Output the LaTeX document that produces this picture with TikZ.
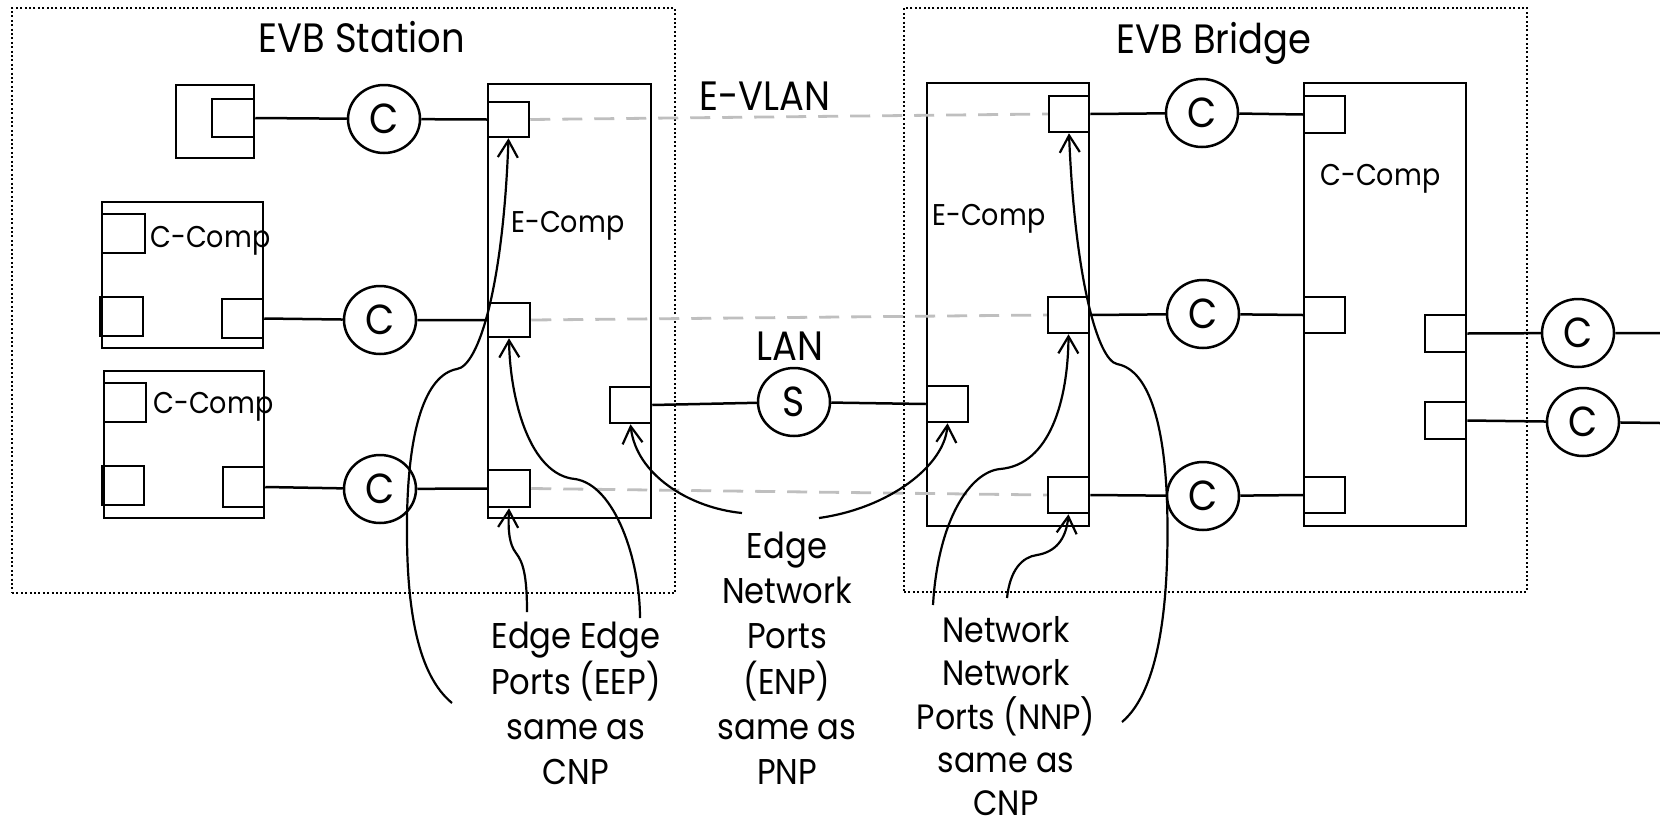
\documentclass[tikz,border=0pt]{standalone}
\usepackage{fontspec}
\setmainfont{Poppins}[FakeStretch=0.9]
\usetikzlibrary{shapes.geometric,arrows.meta,fit}
\newcommand{\ttlfont}{\fontsize{20.5}{24}\selectfont}
\newcommand{\lblfont}{\fontsize{17.9}{22.5}\selectfont}
\newcommand{\nnpfont}{\fontsize{17.6}{21.6}\selectfont}
\newcommand{\cmpfont}{\fontsize{15}{18}\selectfont}
\newcommand{\crcfont}{\fontsize{21}{24}\selectfont}
\tikzset{
  grp/.style={draw, line width=1pt, dash pattern=on 1pt off 1.2pt, inner sep=0pt, fit={#1}},
  box/.style={draw, line width=1.25pt, inner sep=0pt, fit={#1}},
  conn/.style={draw, ellipse, line width=1.25pt, minimum width=36pt, minimum height=34pt, inner sep=0pt, font=\crcfont},
  wire/.style={line width=1.25pt},
  vlan/.style={line width=1.4pt, draw=black!25, dash pattern=on 10pt off 6pt},
  callout/.style={line width=1.1pt, -{Straight Barb[length=8.5pt,width=10pt]}},
  ttl/.style={inner sep=0pt, font=\ttlfont, anchor=base},
  cmp/.style={inner sep=0pt, font=\cmpfont, anchor=base west},
  lbl/.style={inner sep=0pt, font=\lblfont, anchor=base},
}
\begin{document}
\begin{tikzpicture}[x=0.5pt,y=-0.5pt]
\useasboundingbox (0,0) rectangle (1660,825);

% dotted groups
\node[grp={(12,8) (675,593)}] (station) {};
\node[grp={(904,8) (1527,592)}] (bridge) {};
\node[ttl] (stTitle) at (362,52) {EVB Station};
\node[ttl] (brTitle) at (1214,53) {EVB Bridge};

% station components
\node[box={(176,85) (254,158)}] (tlOut) {};
\node[box={(212,99) (254,137)}] (tlIn) {};
\node[box={(488,84) (651,518)}] (stE) {};
\node[box={(488,102) (529,137)}] (stP1) {};
\node[box={(488,303) (530,337)}] (stP2) {};
\node[box={(488,470) (530,507)}] (stP3) {};
\node[box={(610,387) (651,423)}] (stPR) {};
\node[cmp] (stElbl) at (511,232) {E-Comp};
\node[box={(102,202) (263,348)}] (cc1) {};
\node[box={(102,214) (145,253)}] (cc1a) {};
\node[box={(100,297) (143,336)}] (cc1b) {};
\node[box={(222,299) (263,338)}] (cc1c) {};
\node[cmp] (cc1lbl) at (150,247) {C-Comp};
\node[box={(104,371) (264,518)}] (cc2) {};
\node[box={(104,383) (146,422)}] (cc2a) {};
\node[box={(102,466) (144,505)}] (cc2b) {};
\node[box={(223,467) (264,507)}] (cc2c) {};
\node[cmp] (cc2lbl) at (153,413) {C-Comp};
\node[conn] (C1) at (384,119) {C};
\node[conn] (C2) at (380,320) {C};
\node[conn] (C3) at (380,489) {C};
\node[conn] (S) at (794,402) {S};

% bridge components
\node[box={(927,83) (1089,526)}] (brE) {};
\node[box={(1049,96) (1089,132)}] (brP1) {};
\node[box={(1048,297) (1089,333)}] (brP2) {};
\node[box={(1048,477) (1089,513)}] (brP3) {};
\node[box={(927,386) (968,422)}] (brPL) {};
\node[cmp] (brElbl) at (932,225) {E-Comp};
\node[box={(1304,83) (1466,526)}] (brC) {};
\node[box={(1304,96) (1345,133)}] (brCa) {};
\node[box={(1304,297) (1345,333)}] (brCb) {};
\node[box={(1304,477) (1345,513)}] (brCc) {};
\node[box={(1425,315) (1466,352)}] (brCd) {};
\node[box={(1425,402) (1466,439)}] (brCe) {};
\node[cmp] (brClbl) at (1320,185) {C-Comp};
\node[conn] (C4) at (1202,113) {C};
\node[conn] (C5) at (1203,314) {C};
\node[conn] (C6) at (1203,496) {C};
\node[conn] (C7) at (1578,333) {C};
\node[conn] (C8) at (1583,422) {C};
\coordinate (out1) at (1660,333);
\coordinate (out2) at (1660,423);

% E-VLAN dashed links
\draw[vlan] (stP1.east) -- (brP1.west);
\draw[vlan] (stP2.east) -- (brP2.west);
\draw[vlan] (stP3.east) -- (brP3.west);
\node[ttl] (evlan) at (765,110) {E-VLAN};
\node[ttl] (lan) at (790,360) {LAN};

% wires
\draw[wire] (tlIn.east) -- (C1) -- (stP1.west);
\draw[wire] (cc1c.east) -- (C2) -- (stP2.west);
\draw[wire] (cc2c.east) -- (C3) -- (stP3.west);
\draw[wire] (stPR.east) -- (S) -- (brPL.west);
\draw[wire] (brP1.east) -- (C4) -- (brCa.west);
\draw[wire] (brP2.east) -- (C5) -- (brCb.west);
\draw[wire] (brP3.east) -- (C6) -- (brCc.west);
\draw[wire] (brCd.east) -- (C7) -- (out1);
\draw[wire] (brCe.east) -- (C8) -- (out2);

% labels
\node[lbl] (eep) at (576,648) {\begin{tabular}[t]{@{}c@{}}Edge Edge\\Ports (EEP)\\same as\\CNP\end{tabular}};
\node[lbl] (enp) at (787,558) {\begin{tabular}[t]{@{}c@{}}Edge\\Network\\Ports\\(ENP)\\same as\\PNP\end{tabular}};
\node[inner sep=0pt, font=\nnpfont, align=center, anchor=south] (nnp) at (1006,816) {Network\\Network\\Ports (NNP)\\same as\\CNP};

% callout curves
\coordinate (eA) at (452,703);
\coordinate (eB) at (640,618);
\coordinate (eC) at (527,612);
\coordinate (nL) at (742,513);
\coordinate (nR) at (819,518);
\coordinate (mA) at (1007,598);
\coordinate (mB) at (933,605);
\coordinate (mC) at (1122,722);
\draw[callout] (eA) .. controls (418,675) and (406,610) .. (407,520) .. controls (408,430) and (425,375) .. (457,369) .. controls (478,366) and (503,290) .. (stP1.south);
\draw[callout] (eB) .. controls (640,560) and (615,485) .. (575,479) .. controls (530,475) and (510,400) .. (stP2.south);
\draw[callout] (eC) .. controls (527,575) and (523,562) .. (516,553) .. controls (509,544) and (508,530) .. (stP3.south);
\draw[callout] (nL) .. controls (690,508) and (636,475) .. (stPR.south);
\draw[callout] (nR) .. controls (890,508) and (945,465) .. (brPL.south);
\draw[callout] (mA) .. controls (1010,570) and (1022,557) .. (1037,555) .. controls (1055,552) and (1066,540) .. (brP3.south);
\draw[callout] (mB) .. controls (938,520) and (970,472) .. (1000,469) .. controls (1050,465) and (1068,400) .. (brP2.south);
\draw[callout] (mC) .. controls (1160,690) and (1170,600) .. (1167,500) .. controls (1163,400) and (1140,368) .. (1117,364) .. controls (1098,360) and (1075,280) .. (brP1.south);
\end{tikzpicture}
\end{document}
